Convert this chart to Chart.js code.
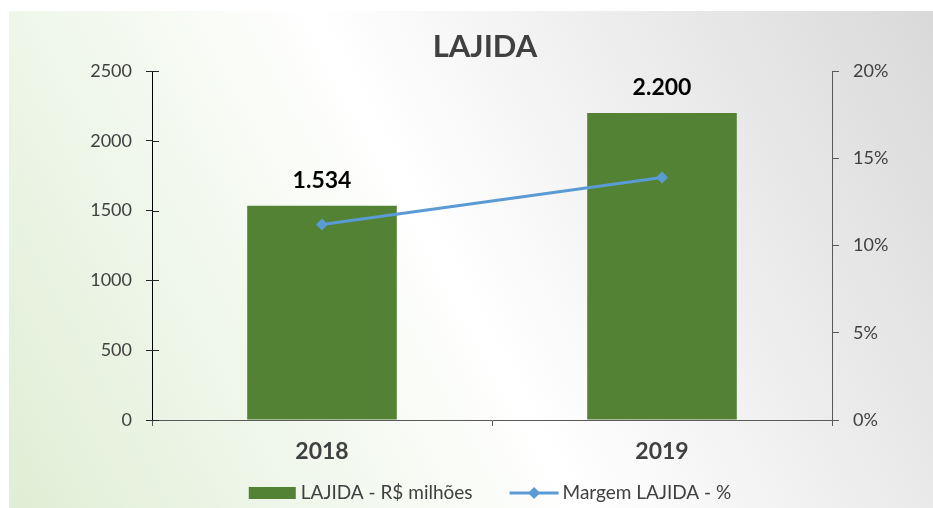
<!DOCTYPE html>
<html>
<head>
<meta charset="utf-8">
<script src="https://cdn.jsdelivr.net/npm/chart.js@4/dist/chart.umd.min.js"></script>
<style>
html,body{margin:0;padding:0;background:#fff;}
#wrap{width:933px;height:508px;position:relative;}
</style>
</head>
<body>
<div id="wrap"><canvas id="c" width="933" height="508"></canvas></div>
<script>
const categories = ['2018', '2019'];
const lajida = [1534, 2200];
const margem = [11.2, 13.9];
const leftTicks = [0, 500, 1000, 1500, 2000, 2500];
const rightTicksPct = [0, 5, 10, 15, 20];
const seriesNames = ['LAJIDA - R$ milhões', 'Margem LAJIDA - %'];
const chartTitle = 'LAJIDA';

const FONT = 'Lato, "Open Sans", sans-serif';
const GREEN = '#548235';
const BLUE = '#5B9BD5';
const TXT = '#404040';

function fmtBR(v){ return v.toLocaleString('de-DE'); }

const bgPlugin = {
  id: 'bg',
  beforeDraw(chart){
    const ctx = chart.ctx;
    ctx.save();
    ctx.fillStyle = '#ffffff';
    ctx.fillRect(0,0,chart.width,chart.height);
    const g = ctx.createLinearGradient(9, 508, 933, 11);
    g.addColorStop(0, '#e0eed5');
    g.addColorStop(0.48, '#ffffff');
    g.addColorStop(1, '#d9d9d9');
    ctx.fillStyle = g;
    ctx.fillRect(9, 11, chart.width - 9, chart.height - 11);
    ctx.restore();
  }
};

const innerTicks = {
  id: 'innerTicks',
  afterDraw(chart){
    const s = chart.scales.y;
    const ctx = chart.ctx;
    ctx.save();
    ctx.strokeStyle = '#262626';
    ctx.lineWidth = 1;
    s.ticks.forEach(t => {
      const y = Math.round(s.getPixelForValue(t.value)) + 0.5;
      ctx.beginPath();
      ctx.moveTo(s.right, y);
      ctx.lineTo(s.right + 7, y);
      ctx.stroke();
    });
    ctx.restore();
  }
};

const dataLabels = {
  id: 'dataLabels',
  afterDatasetsDraw(chart){
    const ctx = chart.ctx;
    const meta = chart.getDatasetMeta(1);
    ctx.save();
    ctx.font = 'bold 23px ' + FONT;
    ctx.fillStyle = '#000';
    ctx.textAlign = 'center';
    ctx.textBaseline = 'middle';
    meta.data.forEach((el, i) => {
      ctx.fillText(fmtBR(lajida[i]), el.x, el.y - 25);
    });
    ctx.restore();
  }
};

const customLegend = {
  id: 'customLegend',
  afterDraw(chart){
    const ctx = chart.ctx;
    ctx.save();
    ctx.font = '19px ' + FONT;
    ctx.textBaseline = 'middle';
    ctx.textAlign = 'left';
    const w1 = ctx.measureText(seriesNames[0]).width;
    const w2 = ctx.measureText(seriesNames[1]).width;
    const total = 47 + 5 + w1 + 37 + 49 + 4 + w2;
    let x = 490 - total/2;
    const cy = 493;
    ctx.fillStyle = GREEN;
    ctx.fillRect(x, cy - 6, 47, 12);
    x += 52;
    ctx.fillStyle = TXT;
    ctx.fillText(seriesNames[0], x, cy);
    x += w1 + 37;
    ctx.strokeStyle = BLUE;
    ctx.lineWidth = 3;
    ctx.beginPath();
    ctx.moveTo(x, cy); ctx.lineTo(x + 49, cy); ctx.stroke();
    ctx.fillStyle = BLUE;
    const dx = x + 24.5;
    ctx.beginPath();
    ctx.moveTo(dx, cy - 6); ctx.lineTo(dx + 6, cy); ctx.lineTo(dx, cy + 6); ctx.lineTo(dx - 6, cy); ctx.closePath(); ctx.fill();
    x += 53;
    ctx.fillStyle = TXT;
    ctx.fillText(seriesNames[1], x, cy);
    ctx.restore();
  }
};

new Chart(document.getElementById('c'), {
  data: {
    labels: categories,
    datasets: [
      {
        type: 'line',
        label: seriesNames[1],
        data: margem,
        yAxisID: 'y2',
        borderColor: BLUE,
        backgroundColor: BLUE,
        borderWidth: 3,
        pointStyle: 'rectRot',
        pointRadius: 6,
        pointHoverRadius: 6,
        pointBorderWidth: 0,
        tension: 0,
        order: 0
      },
      {
        type: 'bar',
        label: seriesNames[0],
        data: lajida,
        yAxisID: 'y',
        backgroundColor: GREEN,
        borderWidth: 0,
        categoryPercentage: 1,
        barPercentage: 0.44,
        order: 1
      }
    ]
  },
  options: {
    responsive: false,
    animation: false,
    devicePixelRatio: 1,
    layout: { padding: { left: 37, right: 0, top: 0, bottom: 38 } },
    plugins: {
      legend: { display: false },
      tooltip: { enabled: false },
      title: {
        display: true,
        text: chartTitle,
        color: TXT,
        font: { family: FONT, size: 31, weight: 'bold', lineHeight: 1.2 },
        padding: { top: 28, bottom: 5.8 }
      }
    },
    scales: {
      x: {
        type: 'category',
        position: 'bottom',
        offset: true,
        afterFit(s){ s.height = 50; },
        grid: { display: true, drawOnChartArea: false, drawTicks: true, tickLength: 6, color: '#595959', offset: true },
        border: { display: true, color: '#595959' },
        ticks: { color: TXT, font: { family: FONT, size: 23, weight: 'bold' }, padding: 12 }
      },
      y: {
        position: 'left',
        min: 0, max: 2500,
        afterFit(s){ s.width = 115; },
        afterBuildTicks(s){ s.ticks = leftTicks.map(v => ({ value: v })); },
        grid: { display: true, drawOnChartArea: false, drawTicks: true, tickLength: 6, color: '#262626' },
        border: { display: true, color: '#000000' },
        ticks: { color: TXT, font: { family: FONT, size: 18 }, padding: 14, callback: v => String(v) }
      },
      y2: {
        position: 'right',
        min: 0, max: 20,
        afterFit(s){ s.width = 101; },
        afterBuildTicks(s){ s.ticks = rightTicksPct.map(v => ({ value: v })); },
        grid: { display: true, drawOnChartArea: false, drawTicks: true, tickLength: 7, color: '#595959' },
        border: { display: true, color: '#595959' },
        ticks: { color: TXT, font: { family: FONT, size: 18 }, padding: 14, callback: v => v + '%' }
      }
    }
  },
  plugins: [bgPlugin, innerTicks, dataLabels, customLegend]
});
</script>
</body>
</html>
